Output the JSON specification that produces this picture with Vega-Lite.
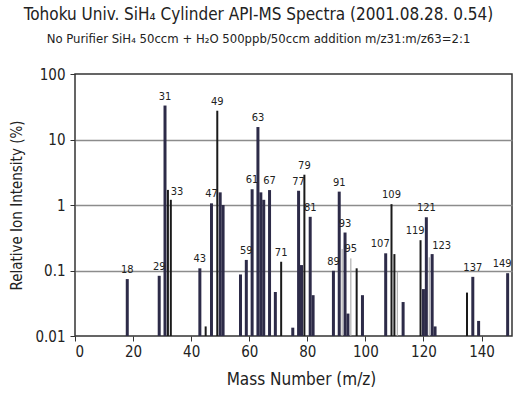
{
  "$schema": "https://vega.github.io/schema/vega-lite/v6.json",
  "width": 437,
  "height": 262,
  "autosize": {"type": "none"},
  "padding": {"left": 75, "top": 74, "right": 5, "bottom": 62},
  "background": "white",
  "title": {
    "text": "Tohoku Univ. SiH₄ Cylinder API-MS Spectra (2001.08.28. 0.54)",
    "subtitle": "No Purifier SiH₄ 50ccm + H₂O 500ppb/50ccm addition m/z31:m/z63=2:1",
    "frame": "group",
    "anchor": "middle",
    "dx": -35,
    "offset": 20,
    "fontSize": 17,
    "fontWeight": "normal",
    "subtitleFontSize": 13,
    "subtitlePadding": 9,
    "color": "#222",
    "subtitleColor": "#222"
  },
  "config": {
    "font": "'DejaVu Sans Condensed', Roboto, sans-serif",
    "view": {"stroke": "#333", "strokeWidth": 1.5},
    "axis": {"labelColor": "#222", "titleColor": "#222", "tickColor": "#333", "titleFontWeight": "normal", "domain": false}
  },
  "data": {
    "values": [
      {"m": 18, "v": 0.074, "s": "A", "label": "18"},
      {"m": 29, "v": 0.083, "s": "A", "label": "29"},
      {"m": 31, "v": 33, "s": "A", "label": "31"},
      {"m": 32, "v": 1.7, "s": "B"},
      {"m": 33, "v": 1.2, "s": "B", "label": "33"},
      {"m": 43, "v": 0.108, "s": "A", "label": "43"},
      {"m": 45, "v": 0.014, "s": "B"},
      {"m": 47, "v": 1.06, "s": "A", "label": "47"},
      {"m": 49, "v": 27.5, "s": "B", "label": "49"},
      {"m": 50, "v": 1.56, "s": "A"},
      {"m": 51, "v": 1.0, "s": "A"},
      {"m": 57, "v": 0.087, "s": "A"},
      {"m": 59, "v": 0.145, "s": "A", "label": "59"},
      {"m": 61, "v": 1.74, "s": "A", "label": "61"},
      {"m": 63, "v": 15.5, "s": "A", "label": "63"},
      {"m": 64, "v": 1.56, "s": "A"},
      {"m": 65, "v": 1.2, "s": "A"},
      {"m": 67, "v": 1.69, "s": "A", "label": "67"},
      {"m": 69, "v": 0.047, "s": "A"},
      {"m": 71, "v": 0.136, "s": "B", "label": "71"},
      {"m": 75, "v": 0.0134, "s": "A"},
      {"m": 77, "v": 1.65, "s": "A", "label": "77"},
      {"m": 78, "v": 0.121, "s": "A"},
      {"m": 79, "v": 2.9, "s": "B", "label": "79"},
      {"m": 81, "v": 0.66, "s": "A", "label": "81"},
      {"m": 82, "v": 0.042, "s": "A"},
      {"m": 89, "v": 0.099, "s": "A", "label": "89"},
      {"m": 91, "v": 1.6, "s": "A", "label": "91"},
      {"m": 92, "v": 0.213, "s": "C"},
      {"m": 93, "v": 0.38, "s": "A", "label": "93"},
      {"m": 94, "v": 0.022, "s": "A"},
      {"m": 95, "v": 0.153, "s": "C", "label": "95"},
      {"m": 97, "v": 0.108, "s": "B"},
      {"m": 99, "v": 0.042, "s": "A"},
      {"m": 107, "v": 0.183, "s": "A", "label": "107"},
      {"m": 109, "v": 1.03, "s": "B", "label": "109"},
      {"m": 110, "v": 0.178, "s": "B"},
      {"m": 111, "v": 0.097, "s": "C"},
      {"m": 113, "v": 0.033, "s": "A"},
      {"m": 119, "v": 0.29, "s": "B", "label": "119"},
      {"m": 120, "v": 0.052, "s": "A"},
      {"m": 121, "v": 0.65, "s": "A", "label": "121"},
      {"m": 122, "v": 0.159, "s": "C"},
      {"m": 123, "v": 0.178, "s": "A", "label": "123"},
      {"m": 124, "v": 0.014, "s": "A"},
      {"m": 135, "v": 0.046, "s": "B"},
      {"m": 137, "v": 0.08, "s": "A", "label": "137"},
      {"m": 139, "v": 0.017, "s": "A"},
      {"m": 149, "v": 0.091, "s": "A", "label": "149"}
    ]
  },
  "encoding": {
    "x": {
      "field": "m",
      "type": "quantitative",
      "scale": {"domain": [0, 150.5], "nice": false, "zero": false},
      "axis": {
        "values": [0, 20, 40, 60, 80, 100, 120, 140],
        "title": "Mass Number (m/z)",
        "grid": false,
        "tickSize": 5,
        "labelFontSize": 15,
        "titleFontSize": 17,
        "labelPadding": 3,
        "titlePadding": 12,
        "titleX": 226,
        "titleAlign": "center"
      }
    },
    "y": {
      "field": "v",
      "type": "quantitative",
      "scale": {"type": "log", "domain": [0.01, 100], "nice": false},
      "axis": {
        "values": [0.01, 0.1, 1, 10, 100],
        "format": "~g",
        "title": "Relative Ion Intensity (%)",
        "grid": true,
        "gridColor": {"condition": {"test": "datum.value == 100 || datum.value == 0.01", "value": "transparent"}, "value": "#8c8c8c"},
        "gridWidth": 1.5,
        "tickSize": 5,
        "labelFontSize": 15,
        "titleFontSize": 15,
        "labelPadding": 5,
        "titlePadding": 10
      }
    }
  },
  "layer": [
    {
      "mark": {"type": "rule"},
      "encoding": {
        "y2": {"datum": 0.01},
        "color": {"field": "s", "type": "nominal", "scale": {"domain": ["A", "B", "C"], "range": ["#2d2b48", "#1a1a1a", "#a0a0a0"]}, "legend": null},
        "strokeWidth": {"field": "s", "type": "ordinal", "scale": {"domain": ["A", "B", "C"], "range": [3, 1, 2.5]}, "legend": null}
      }
    },
    {
      "transform": [{"filter": "datum.label && indexof(['33','123','107','119','149'], datum.label) < 0"}],
      "mark": {"type": "text", "baseline": "bottom", "align": "center", "dy": -4, "fontSize": 11, "color": "#222"},
      "encoding": {"text": {"field": "label"}}
    },
    {
      "transform": [{"filter": "indexof(['33','123'], datum.label) >= 0"}],
      "mark": {"type": "text", "baseline": "bottom", "align": "left", "dx": 0, "dy": -3, "fontSize": 11, "color": "#222"},
      "encoding": {"text": {"field": "label"}}
    },
    {
      "transform": [{"filter": "indexof(['107','119','149'], datum.label) >= 0"}],
      "mark": {"type": "text", "baseline": "bottom", "align": "right", "dx": 4, "dy": -4, "fontSize": 11, "color": "#222"},
      "encoding": {"text": {"field": "label"}}
    }
  ]
}
